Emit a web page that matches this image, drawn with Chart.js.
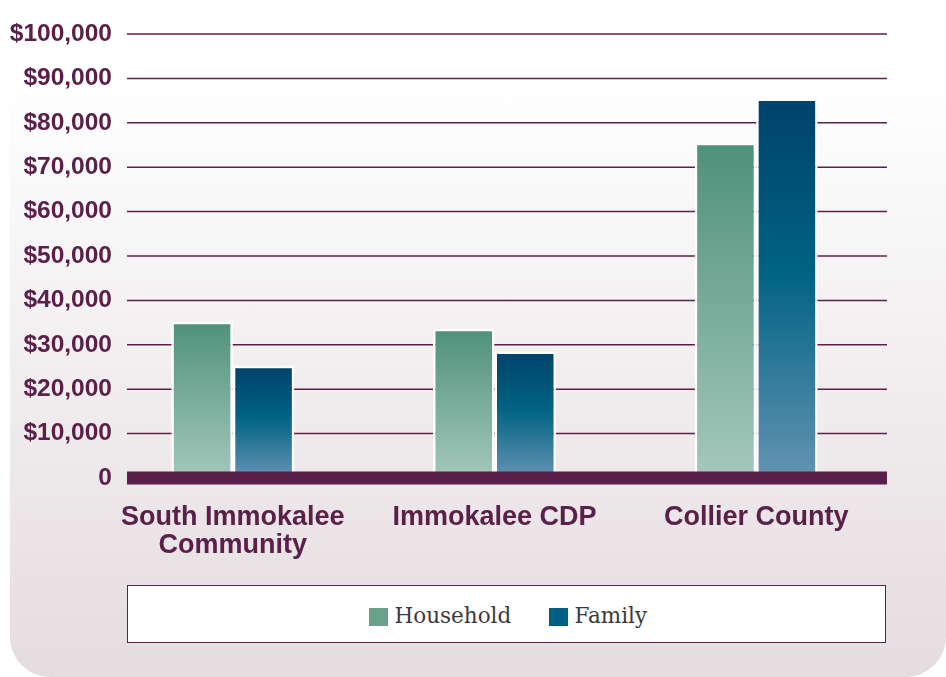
<!DOCTYPE html>
<html>
<head>
<meta charset="utf-8">
<script src="https://cdn.jsdelivr.net/npm/chart.js@4/dist/chart.umd.min.js"></script>
<style>
  html, body { margin: 0; padding: 0; background: #fff; }
  #wrap { position: relative; width: 946px; height: 677px; overflow: hidden; }
  #bg {
    position: absolute; left: 10px; top: 0; width: 936px; height: 677px;
    border-radius: 0 0 40px 40px;
    background: linear-gradient(to bottom, #ffffff 0%, #ffffff 12%, #f5f3f4 42%, #ede8ea 70%, #e5dce0 100%);
  }
  #chart { position: absolute; left: 0; top: 0; }
  #legend {
    position: absolute; left: 127px; top: 585px; width: 757px; height: 56px;
    border: 1.5px solid #5d2150; background: #fff;
    font-family: "DejaVu Serif", "Liberation Serif", serif; color: #3a3a3a;
  }
  .item { position: absolute; top: 0; height: 56px; }
  .sw { position: absolute; top: 22px; width: 19px; height: 18px; }
  .lbl { position: absolute; left: 26px; top: 16px; font-size: 21.5px; line-height: 28px; white-space: nowrap; }
</style>
</head>
<body>
<div id="wrap">
  <div id="bg"></div>
  <canvas id="chart" width="946" height="677"></canvas>
  <div id="legend"></div>
</div>
<script>
/* ── Données ─────────────────────────────────────────────────── */
const categories      = [['South Immokalee', 'Community'], 'Immokalee CDP', 'Collier County'];
const seriesNames     = ['Household', 'Family'];
const householdIncome = [35200, 33600, 75500];
const familyIncome    = [25300, 28500, 85500];
const legendColors    = ['#6aa18c', '#005f85'];

/* ── Styles ──────────────────────────────────────────────────── */
const PURPLE     = '#5b2049';
const GRID_START = 127;
const TICK_FONT  = 'bold 24.5px "Liberation Sans", Arial, sans-serif';
const householdStops = [[0, '#4f917a'], [1, '#a4c8bb']];
const familyStops    = [[0, '#00426a'], [0.45, '#006283'], [1, '#6493b3']];

function barGradient(stops) {
  return (ctx) => {
    const chart = ctx.chart;
    if (!chart.chartArea || ctx.type !== 'data') return stops[0][1];
    const y = chart.scales.y;
    const top = y.getPixelForValue(ctx.raw);
    const bottom = y.getPixelForValue(0);
    const g = chart.ctx.createLinearGradient(0, top, 0, bottom);
    stops.forEach(([o, c]) => g.addColorStop(o, c));
    return g;
  };
}

const tickLabel = v => v === 0 ? '0' : '$' + v.toLocaleString('en-US');

/* grille partielle (commence à GRID_START), étiquettes Y, ligne de base épaisse */
const framePlugin = {
  id: 'frame',
  beforeDatasetsDraw(chart) {
    const { ctx, chartArea, scales: { y } } = chart;
    ctx.save();
    ctx.strokeStyle = PURPLE;
    ctx.lineWidth = 1.5;
    ctx.fillStyle = PURPLE;
    ctx.font = TICK_FONT;
    ctx.textAlign = 'right';
    ctx.textBaseline = 'middle';
    y.ticks.forEach(t => {
      const py = y.getPixelForValue(t.value);
      ctx.fillText(tickLabel(t.value), GRID_START - 15, py);
      if (t.value === 0) return;
      ctx.beginPath();
      ctx.moveTo(GRID_START, py);
      ctx.lineTo(chartArea.right, py);
      ctx.stroke();
    });
    ctx.restore();
  },
  afterDatasetsDraw(chart) {
    const { ctx, chartArea, scales: { y } } = chart;
    const py = y.getPixelForValue(0);
    ctx.save();
    ctx.fillStyle = PURPLE;
    ctx.fillRect(GRID_START, py - 6.5, chartArea.right - GRID_START, 13);
    ctx.restore();
  },
};

Chart.defaults.font.family = '"Liberation Sans", Arial, sans-serif';

new Chart(document.getElementById('chart'), {
  type: 'bar',
  data: {
    labels: categories,
    datasets: [
      { label: seriesNames[0], data: householdIncome, backgroundColor: barGradient(householdStops),
        borderColor: '#ffffff', borderWidth: 2.5 },
      { label: seriesNames[1], data: familyIncome, backgroundColor: barGradient(familyStops),
        borderColor: '#ffffff', borderWidth: 2.5 },
    ],
  },
  options: {
    responsive: false,
    animation: false,
    devicePixelRatio: 1,
    layout: { padding: { left: 10, right: 59, top: 34, bottom: 0 } },
    datasets: { bar: { categoryPercentage: 0.47, barPercentage: 1.0 } },
    plugins: { legend: { display: false }, tooltip: { enabled: false } },
    scales: {
      x: {
        grid: { display: false, drawTicks: false },
        border: { display: false },
        ticks: { color: PURPLE, padding: 26, font: { size: 27, weight: 'bold', lineHeight: 1.03 } },
        afterFit: s => { s.height = 677 - 478; },
      },
      y: {
        min: 0, max: 100000,
        grid: { display: false, drawTicks: false },
        border: { display: false },
        ticks: { stepSize: 10000, display: false },
        afterFit: s => { s.width = 92; },
      },
    },
  },
  plugins: [framePlugin],
});

/* ── Légende ─────────────────────────────────────────────────── */
const legend = document.getElementById('legend');
const legendX = [240.5, 420.5];
seriesNames.forEach((name, i) => {
  const item = document.createElement('div');
  item.className = 'item';
  item.style.left = legendX[i] + 'px';
  item.innerHTML = `<span class="sw" style="background:${legendColors[i]}"></span><span class="lbl">${name}</span>`;
  legend.appendChild(item);
});
</script>
</body>
</html>
